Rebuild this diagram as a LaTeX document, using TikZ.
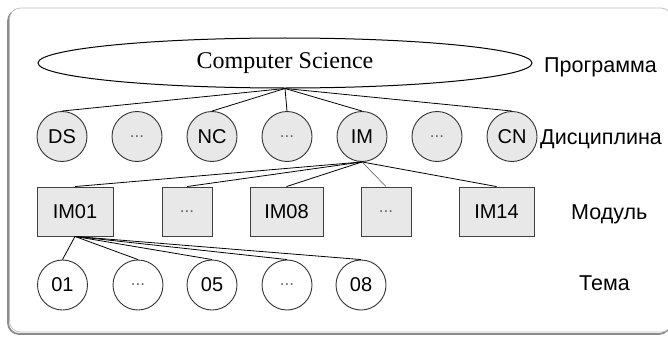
\documentclass[tikz,border=0pt]{standalone}
\usepackage{fontspec}
\setmainfont{Liberation Sans}
\newfontfamily\titleface{Liberation Serif}
\usetikzlibrary{shapes.geometric}

% grey "..." placeholder used inside the nodes
\newcommand\skipmark{{\color{black!60}\fontsize{17}{17}\selectfont ...}}

\begin{document}
\begin{tikzpicture}[x=1pt,y=-1pt,
  labelfont/.style={font=\fontsize{20}{20}\selectfont},
  disc/.style={circle, draw=black!80, fill=black!9, line width=0.9pt,
    minimum size=50pt, inner sep=0pt, labelfont},
  topic/.style={disc, fill=white},
  module/.style={rectangle, draw=black!75, fill=black!9, line width=0.9pt,
    minimum height=49pt, inner sep=0pt, labelfont},
  link/.style={draw=black, line width=0.8pt},
  faint/.style={draw=black!70, line width=0.5pt},
  level/.style={anchor=base west, inner sep=0pt, font=\fontsize{21.5}{22}\selectfont}
]
\useasboundingbox (0,0) rectangle (668,337);

% outer panel with a soft shadow on the left and bottom
\draw[black!45, line width=1.8pt, rounded corners=11pt] (8,10) rectangle (670,334);
\draw[fill=white, draw=black!25, line width=0.7pt, rounded corners=11pt] (9.5,8) rectangle (672,332);

% programme
\node[ellipse, draw=black, line width=1pt, minimum width=494pt, minimum height=50pt,
  inner sep=0pt, font=\titleface\fontsize{24}{24}\selectfont] (cs) at (285,63) {Computer Science};

% disciplines
\node[disc] (ds) at (62,136.5) {DS};
\node[disc] (d2) at (137,136.5) {\skipmark};
\node[disc] (nc) at (212,136.5) {NC};
\node[disc] (d4) at (287,136.5) {\skipmark};
\node[disc] (im) at (362,136.5) {IM};
\node[disc] (d6) at (437,136.5) {\skipmark};
\node[disc] (cn) at (512,136.5) {CN};

% modules
\node[module, minimum width=76pt] (m01) at (75,211.5) {IM01};
\node[module, minimum width=50pt] (m2) at (187,211.5) {\skipmark};
\node[module, minimum width=73pt] (m08) at (286.5,211.5) {IM08};
\node[module, minimum width=50pt] (m4) at (386,211.5) {\skipmark};
\node[module, minimum width=75pt] (m14) at (496.5,211.5) {IM14};

% topics
\node[topic] (t01) at (62.5,285) {01};
\node[topic] (t2) at (138,285) {\skipmark};
\node[topic] (t05) at (212,285) {05};
\node[topic] (t4) at (287,285) {\skipmark};
\node[topic] (t08) at (361,285) {08};

% links between the levels
\foreach \n in {ds,nc,d4,im,cn} \draw[link] (cs.south) -- (\n.north);
\foreach \n in {m01,m2,m08,m14} \draw[link] (im.south) -- (\n.north);
\draw[faint] (im.south) -- (m4.north);
\foreach \n in {t01,t2,t05,t4,t08} \draw[link] (m01.south) -- (\n.north);

% level names
\node[level] (lp) at (544,72.5) {Программа};
\node[level] (ld) at (540,144.5) {Дисциплина};
\node[level] (lm) at (571,219.5) {Модуль};
\node[level] (lt) at (579,290.5) {Тема};
\end{tikzpicture}
\end{document}
